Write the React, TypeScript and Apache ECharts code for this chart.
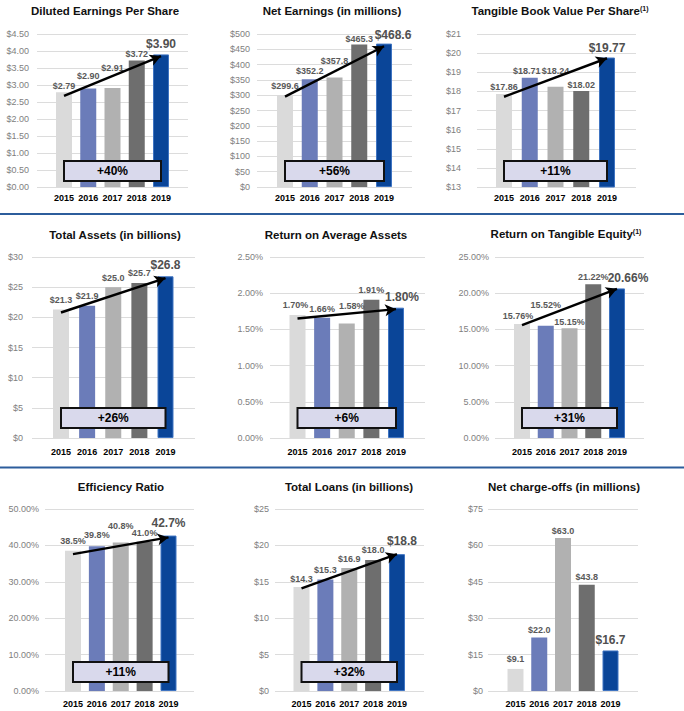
import React, { useEffect, useRef } from 'react';
import * as echarts from 'echarts';

// ---------- data ----------
const YEARS = ['2015', '2016', '2017', '2018', '2019'];
const EPS = [2.79, 2.9, 2.91, 3.72, 3.9];
const NET_EARNINGS = [299.6, 352.2, 357.8, 465.3, 468.6];
const TBVPS = [17.86, 18.71, 18.24, 18.02, 19.77];
const TOTAL_ASSETS = [21.3, 21.9, 25.0, 25.7, 26.8];
const ROAA = [1.7, 1.66, 1.58, 1.91, 1.8];
const ROTE = [15.76, 15.52, 15.15, 21.22, 20.66];
const EFFICIENCY = [38.5, 39.8, 40.8, 41.0, 42.7];
const TOTAL_LOANS = [14.3, 15.3, 16.9, 18.0, 18.8];
const NET_CHARGE_OFFS = [9.1, 22.0, 63.0, 43.8, 16.7];

const TITLES = [
  'Diluted Earnings Per Share',
  'Net Earnings (in millions)',
  'Tangible Book Value Per Share{sup|(1)}',
  'Total Assets (in billions)',
  'Return on Average Assets',
  'Return on Tangible Equity{sup|(1)}',
  'Efficiency Ratio',
  'Total Loans (in billions)',
  'Net charge-offs (in millions)',
];
const CHANGES = ['+40%', '+56%', '+11%', '+26%', '+6%', '+31%', '+11%', '+32%', ''];
// trend arrow: start value (2015) and end value (2019)
const ARROW_FROM = [2.68, 295, 17.72, 20.8, 1.65, 15.6, 37.6, 14.1, null];
const ARROW_TO = [3.85, 460, 19.73, 26.5, 1.78, 20.6, 42.2, 18.8, null];
const Y_MIN = [0, 0, 13, 0, 0, 0, 0, 0, 0];
const Y_MAX = [4.5, 500, 21, 30, 2.5, 25, 50, 25, 75];
const Y_STEP = [0.5, 50, 1, 5, 0.5, 5, 10, 5, 15];

const SERIES = [EPS, NET_EARNINGS, TBVPS, TOTAL_ASSETS, ROAA, ROTE, EFFICIENCY, TOTAL_LOANS, NET_CHARGE_OFFS];

const dollar2 = (v: number) => '$' + v.toFixed(2);
const dollar1 = (v: number) => '$' + v.toFixed(1);
const dollar0 = (v: number) => '$' + Math.round(v);
const pct2 = (v: number) => v.toFixed(2) + '%';
const pct1 = (v: number) => v.toFixed(1) + '%';

const AXIS_FMT = [dollar2, dollar0, dollar0, dollar0, pct2, pct2, pct2, dollar0, dollar0];
const LABEL_FMT = [dollar2, dollar1, dollar2, dollar1, pct2, pct2, pct1, dollar1, dollar1];

// ---------- layout (pixels) ----------
const BAR_COLORS = ['#dadada', '#6b7cb9', '#b1b1b1', '#6e6e6e', '#0a4598'];

const LAYOUT = [
  { x0: 37, x1: 188, y0: 34, y1: 187, c0: 64, c4: 161, tx: 105, ty: 5, by: 161, xm: 6, ym: 8 },
  { x0: 257, x1: 412, y0: 34, y1: 187, c0: 285, c4: 384, tx: 332, ty: 5, by: 161, xm: 6, ym: 7 },
  { x0: 477, x1: 636, y0: 34, y1: 187, c0: 504, c4: 607, tx: 560, ty: 5, by: 161, xm: 6, ym: 16 },
  { x0: 32, x1: 195, y0: 257, y1: 438, c0: 61, c4: 165.5, tx: 115, ty: 229, by: 408, xm: 9, ym: 9 },
  { x0: 270, x1: 425, y0: 257, y1: 438, c0: 297.5, c4: 396, tx: 336, ty: 229, by: 408, xm: 9, ym: 7 },
  { x0: 495, x1: 644, y0: 257, y1: 438, c0: 522, c4: 617, tx: 566, ty: 228, by: 408, xm: 9, ym: 6 },
  { x0: 45, x1: 194, y0: 509, y1: 691, c0: 73, c4: 168.5, tx: 121, ty: 481, by: 662, xm: 8, ym: 6 },
  { x0: 275, x1: 424, y0: 509, y1: 691, c0: 301.5, c4: 397, tx: 349, ty: 481, by: 662, xm: 8, ym: 6 },
  { x0: 488, x1: 638, y0: 509, y1: 691, c0: 515.5, c4: 610.5, tx: 564, ty: 481, by: 662, xm: 8, ym: 5 },
];

const LABEL_SHIFT = [
  [[0, 3], [0, -3], [0, -11], [0, 3], [0, 1]],
  [[0, 0], [0, 1], [0, -7], [0, 4], [9, 2]],
  [[0, 2], [-3, 3], [0, -6], [0, 4], [0, 1]],
  [[0, 0], [0, 0], [0, 0], [0, 0], [0, 0]],
  [[-2, 0], [0, 1], [5, -8], [0, 0], [6, 0]],
  [[-4, 2], [0, -11], [0, 3], [0, 2], [11, 1]],
  [[0, 0], [0, -2], [0, -7], [0, 1], [0, -2]],
  [[0, 2], [0, 0], [0, 1], [0, 0], [5, -2]],
  [[0, 0], [0, 2], [0, 2], [0, 2], [0, 1]],
];

const FONT = '"Liberation Sans", Arial, Helvetica, sans-serif';

export default function App() {
  const ref = useRef<HTMLDivElement>(null);

  useEffect(() => {
    if (!ref.current) return;
    const chart = echarts.init(ref.current, null, { renderer: 'svg' });

    const grid: any[] = [];
    const xAxis: any[] = [];
    const yAxis: any[] = [];
    const series: any[] = [];
    const title: any[] = [];
    const graphic: any[] = [];

    SERIES.forEach((values, i) => {
      const L = LAYOUT[i];
      const s = (L.c4 - L.c0) / 4;
      const wi = grid.length;
      // wide grid: gridlines + y labels
      grid.push({ left: L.x0, width: L.x1 - L.x0, top: L.y0, height: L.y1 - L.y0, containLabel: false, outerBoundsMode: 'none' });
      // narrow grid: bars + year labels
      grid.push({ left: L.c0 - s / 2, width: 5 * s, top: L.y0, height: L.y1 - L.y0, containLabel: false, outerBoundsMode: 'none' });

      xAxis.push({ gridIndex: wi, type: 'value', show: false, min: 0, max: 1 });
      yAxis.push({
        gridIndex: wi,
        type: 'value',
        min: Y_MIN[i],
        max: Y_MAX[i],
        interval: Y_STEP[i],
        axisLine: { show: false },
        axisTick: { show: false },
        axisLabel: { formatter: AXIS_FMT[i], color: '#808080', fontSize: 9, margin: L.ym, fontFamily: FONT },
        splitLine: { show: true, lineStyle: { color: '#dcdcdc', width: 1 } },
      });
      xAxis.push({
        gridIndex: wi + 1,
        type: 'category',
        data: YEARS,
        axisLine: { show: false },
        axisTick: { show: false },
        axisLabel: { color: '#000', fontSize: 9, fontWeight: 'bold', margin: L.xm, fontFamily: FONT, interval: 0 },
        splitLine: { show: false },
      });
      yAxis.push({ gridIndex: wi + 1, type: 'value', min: Y_MIN[i], max: Y_MAX[i], show: false, splitLine: { show: false } });

      const fmt = LABEL_FMT[i];
      const data = values.map((v, k) => {
        const last = k === 4;
        return {
          value: v,
          itemStyle: {
            color: BAR_COLORS[k],
            borderColor: last ? '#3f74c2' : BAR_COLORS[k],
            borderWidth: last ? 1 : 0,
          },
          label: {
            offset: LABEL_SHIFT[i][k],
            fontSize: last ? 12 : 9,
            fontWeight: 'bold',
            color: last ? '#505050' : '#595959',
          },
        };
      });

      const ser: any = {
        type: 'bar',
        xAxisIndex: wi + 1,
        yAxisIndex: wi + 1,
        barWidth: 16,
        data,
        label: {
          show: true,
          position: 'top',
          distance: 5,
          fontFamily: FONT,
          formatter: (p: any) => fmt(p.value),
        },
      };
      if (ARROW_FROM[i] != null) {
        ser.markLine = {
          silent: true,
          symbol: ['none', 'arrow'],
          symbolSize: [9, 11],
          label: { show: false },
          lineStyle: { color: '#000', width: 2.5, type: 'solid' },
          emphasis: { disabled: true },
          data: [[{ coord: [0, ARROW_FROM[i]] }, { coord: [4, ARROW_TO[i]] }]],
        };
      }
      series.push(ser);

      title.push({
        text: TITLES[i],
        left: L.tx,
        top: L.ty,
        textAlign: 'center',
        padding: 0,
        textStyle: {
          fontSize: 11.5,
          fontWeight: 'bold',
          color: '#111',
          fontFamily: FONT,
          rich: {
            sup: { fontSize: 7, fontWeight: 'bold', color: '#111', verticalAlign: 'top', fontFamily: FONT },
          },
        },
      });

      if (CHANGES[i]) {
        graphic.push({
          type: 'rect',
          z: 100,
          shape: { x: L.c0, y: L.by, width: L.c4 - L.c0, height: 20 },
          style: { fill: '#d9d9ec', stroke: '#111', lineWidth: 2 },
        });
        graphic.push({
          type: 'text',
          z: 101,
          x: (L.c0 + L.c4) / 2,
          y: L.by + 10,
          style: {
            text: CHANGES[i],
            fill: '#000',
            font: 'bold 12px ' + FONT,
            textAlign: 'center',
            textVerticalAlign: 'middle',
            align: 'center',
            verticalAlign: 'middle',
          },
        });
      }
    });

    graphic.push({ type: 'line', z: 100, shape: { x1: 0, y1: 214, x2: 684, y2: 214 }, style: { stroke: '#2c5d9c', lineWidth: 2 } });
    graphic.push({ type: 'line', z: 100, shape: { x1: 0, y1: 467.5, x2: 684, y2: 467.5 }, style: { stroke: '#2c5d9c', lineWidth: 2 } });

    chart.setOption({
      animation: false,
      backgroundColor: '#ffffff',
      textStyle: { fontFamily: FONT },
      title,
      grid,
      xAxis,
      yAxis,
      series,
      graphic,
    });

    return () => chart.dispose();
  }, []);

  return (
    <div
      ref={ref}
      style={{ position: 'absolute', left: 0, top: 0, width: 684, height: 711 }}
    />
  );
}
